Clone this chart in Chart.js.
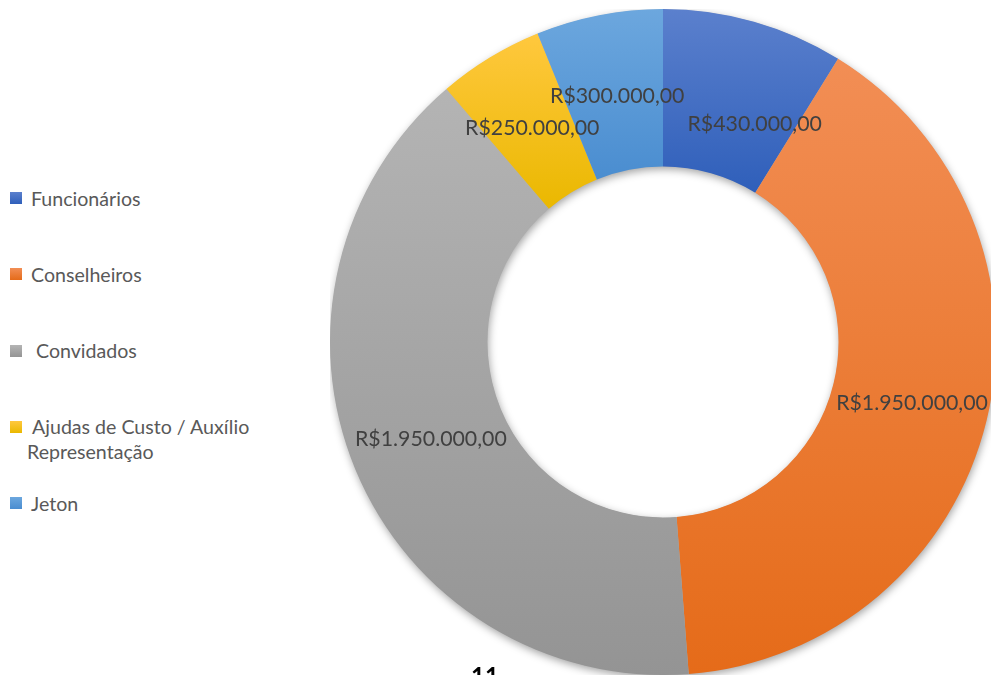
<!DOCTYPE html>
<html>
<head>
<meta charset="utf-8">
<script src="https://cdn.jsdelivr.net/npm/chart.js@4.4.1/dist/chart.umd.min.js"></script>
<style>
  html, body { margin:0; padding:0; background:#fff; width:991px; height:675px; overflow:hidden; position:relative; }
  #chartBox { position:absolute; left:330px; top:9px; width:666px; height:666px; }
  #legend { position:absolute; left:0; top:0; font-family:Lato, "Open Sans", sans-serif; font-size:19.6px; color:#595959; }
  .lg-row { position:absolute; left:0; width:270px; }
  .lg-sq { position:absolute; left:10px; width:12px; height:12px; }
  .lg-tx { position:absolute; white-space:pre-wrap; line-height:25px; width:235px; }
  #pagenum { position:absolute; left:471px; top:664px; font-family:Lato, sans-serif; font-size:24px; line-height:24px; color:#000; font-weight:bold; }
</style>
</head>
<body>
<div id="legend"></div>
<div id="chartBox"><canvas id="c"></canvas></div>
<div id="pagenum">11</div>
<script>
// ---- data ----
const categories = ['Funcionários', 'Conselheiros', ' Convidados', ' Ajudas de Custo / Auxílio Representação', 'Jeton'];
const values = [430000, 1950000, 1950000, 250000, 300000];
// ---- colours ----
const baseColors   = ['#4472C4', '#ED7D31', '#A5A5A5', '#FFC000', '#5B9BD5'];
const topColors    = ['#5B80CD', '#F28E55', '#B4B4B4', '#FFC83E', '#6CA7DE'];
const bottomColors = ['#2F5FBA', '#E56B19', '#949494', '#EAB800', '#4A8DD0'];

const CUT = 0.527;

function formatBRL(v) {
  const parts = Math.floor(v).toString().replace(/\B(?=(\d{3})+(?!\d))/g, '.');
  const cents = Math.round((v - Math.floor(v)) * 100).toString().padStart(2, '0');
  return 'R$' + parts + ',' + cents;
}

function sliceGradient(ctx) {
  const i = ctx.dataIndex;
  const chart = ctx.chart;
  const ca = chart.chartArea;
  if (!ca) return baseColors[i];
  const cy = (ca.top + ca.bottom) / 2;
  const R = Math.min(ca.right - ca.left, ca.bottom - ca.top) / 2;
  const r = R * CUT;
  const data = chart.data.datasets[0].data;
  const total = data.reduce((a, b) => a + b, 0);
  let cum = 0;
  for (let k = 0; k < i; k++) cum += data[k];
  const a0 = -Math.PI / 2 + 2 * Math.PI * cum / total;
  const a1 = a0 + 2 * Math.PI * data[i] / total;
  let minY = Infinity, maxY = -Infinity;
  for (let s = 0; s <= 80; s++) {
    const a = a0 + (a1 - a0) * s / 80;
    for (const rad of [R, r]) {
      const y = cy + rad * Math.sin(a);
      if (y < minY) minY = y;
      if (y > maxY) maxY = y;
    }
  }
  const g = chart.ctx.createLinearGradient(0, minY, 0, maxY);
  g.addColorStop(0, topColors[i]);
  g.addColorStop(1, bottomColors[i]);
  return g;
}

// label placement tweaks (angle in radians, radius in px) relative to slice middle
const labelAdjust = [{da: 0.12, dr: -17}, {da: 0, dr: 2}, {da: 0, dr: -3}, {da: 0, dr: -3}, {da: 0.01, dr: -3}];

const ringShadow = {
  id: 'ringShadow',
  beforeDatasetsDraw(chart) {
    const el = chart.getDatasetMeta(0).data[0];
    if (!el) return;
    const c = chart.ctx;
    c.save();
    c.shadowColor = 'rgba(0,0,0,0.38)';
    c.shadowBlur = 9;
    c.shadowOffsetX = 1;
    c.shadowOffsetY = 3;
    c.beginPath();
    c.arc(el.x, el.y, el.outerRadius - 0.5, 0, Math.PI * 2);
    c.arc(el.x, el.y, el.innerRadius + 0.5, 0, Math.PI * 2, true);
    c.closePath();
    c.fillStyle = '#b0b0b0';
    c.fill();
    c.restore();
  }
};

const valueLabels = {
  id: 'valueLabels',
  afterDatasetsDraw(chart) {
    const c = chart.ctx;
    const meta = chart.getDatasetMeta(0);
    c.save();
    c.font = '21.3px Lato, "Open Sans", sans-serif';
    c.fillStyle = '#404040';
    c.textAlign = 'center';
    c.textBaseline = 'middle';
    meta.data.forEach((el, i) => {
      const adj = labelAdjust[i] || {da: 0, dr: 0};
      const mid = (el.startAngle + el.endAngle) / 2 + adj.da;
      const rr = (el.innerRadius + el.outerRadius) / 2 + adj.dr;
      const x = el.x + rr * Math.cos(mid);
      const y = el.y + rr * Math.sin(mid);
      c.fillText(formatBRL(chart.data.datasets[0].data[i]), x, y + 1);
    });
    c.restore();
  }
};

new Chart(document.getElementById('c'), {
  type: 'doughnut',
  data: {
    labels: categories,
    datasets: [{
      data: values,
      backgroundColor: sliceGradient,
      borderWidth: 0,
      hoverOffset: 0
    }]
  },
  options: {
    responsive: true,
    maintainAspectRatio: false,
    animation: false,
    cutout: (CUT * 100) + '%',
    layout: { padding: 0 },
    plugins: {
      legend: { display: false },
      tooltip: { enabled: false }
    }
  },
  plugins: [ringShadow, valueLabels]
});

// ---- HTML legend built from the data arrays ----
const legend = document.getElementById('legend');
const firstCenter = 198, step = 76.3;
categories.forEach((name, i) => {
  const row = document.createElement('div');
  row.className = 'lg-row';
  const cy = firstCenter + i * step;
  row.style.top = (cy - 12.5) + 'px';
  const sq = document.createElement('div');
  sq.className = 'lg-sq';
  sq.style.top = '6.5px';
  sq.style.background = 'linear-gradient(' + topColors[i] + ',' + bottomColors[i] + ')';
  const tx = document.createElement('div');
  tx.className = 'lg-tx';
  tx.style.left = (name.startsWith(' ') && name.length > 20) ? '27px' : '31px';
  tx.textContent = name;
  row.appendChild(sq);
  row.appendChild(tx);
  legend.appendChild(row);
});
</script>
</body>
</html>
